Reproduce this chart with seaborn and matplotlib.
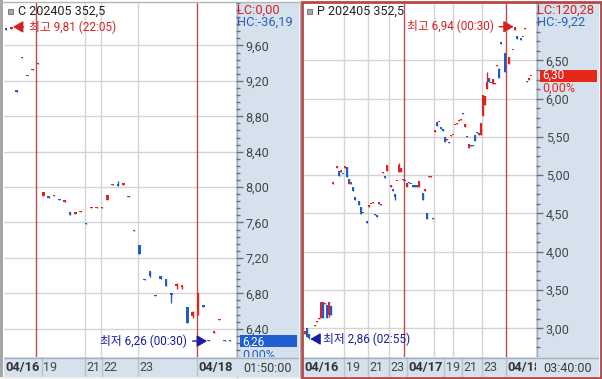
import numpy as np
import pandas as pd
import seaborn as sns
import matplotlib
matplotlib.use("Agg")
import matplotlib.pyplot as plt
from matplotlib.patches import Rectangle
import matplotlib.transforms as mtransforms

sns.set_theme(style="white")
plt.rcParams['font.family'] = ['Roboto', 'Noto Sans CJK KR', 'DejaVu Sans']
plt.rcParams['axes.unicode_minus'] = False

# ---------------- data : left panel (C 202405 352,5) ----------------
L_x = list(range(43))
L_open = [9.79, 9.79, 9.09, 9.46, 9.26, 9.32, 9.39, 7.90, 7.89, 7.90, 7.86, 7.83, 7.72, 7.70, 7.72,
          7.59, 7.76, 7.76, 7.76, 7.85, 8.02, 8.03, 8.02, 7.90, 7.51, 7.35, 6.96, 7.05, 6.78, 7.00,
          6.96, 6.80, 6.88, 6.87, 6.65, 6.54, 6.61, 6.66, 6.27, 6.35, 6.50, 6.27, 6.27]
L_high = [9.79, 9.81, 9.09, 9.47, 9.26, 9.33, 9.40, 7.95, 7.89, 7.91, 7.86, 7.85, 7.72, 7.71, 7.73,
          7.59, 7.77, 7.77, 7.77, 7.91, 8.03, 8.07, 8.05, 7.90, 7.51, 7.35, 6.96, 7.05, 6.78, 7.00,
          6.96, 6.80, 6.92, 6.89, 6.65, 6.60, 6.80, 6.66, 6.27, 6.37, 6.51, 6.27, 6.27]
L_low = [9.78, 9.79, 9.08, 9.46, 9.25, 9.32, 9.39, 7.90, 7.88, 7.90, 7.85, 7.83, 7.69, 7.70, 7.72,
         7.58, 7.76, 7.76, 7.76, 7.85, 8.02, 8.01, 8.02, 7.89, 7.50, 7.24, 6.95, 6.98, 6.77, 6.96,
         6.88, 6.69, 6.85, 6.85, 6.46, 6.52, 6.56, 6.65, 6.26, 6.35, 6.50, 6.26, 6.26]
L_close = [9.78, 9.81, 9.08, 9.47, 9.25, 9.33, 9.40, 7.95, 7.88, 7.91, 7.85, 7.85, 7.69, 7.71, 7.73,
           7.58, 7.77, 7.77, 7.77, 7.91, 8.03, 8.01, 8.05, 7.89, 7.50, 7.24, 6.95, 7.00, 6.77, 6.96,
           6.88, 6.78, 6.90, 6.89, 6.46, 6.59, 6.80, 6.65, 6.26, 6.37, 6.51, 6.26, 6.26]
L_grid_x = [14.8, 17.75, 24.7]
L_day_x = [5.6, 35.8]
L_tick_pos = [-0.4, 5.6, 14.8, 17.75, 24.7, 35.8]
L_tick_lab = ["04/16", "19", "21", "22", "23", "04/18"]
L_tick_bold = [True, False, False, False, False, True]
L_yticks = [6.40, 6.80, 7.20, 7.60, 8.00, 8.40, 8.80, 9.20, 9.60]

# ---------------- data : right panel (P 202405 352,5) ----------------
R_x = [0, 1, 2, 5, 6, 7, 8, 9, 10, 11, 12, 13, 14, 16, 17, 18, 19, 20, 21, 22, 23, 24, 25, 27, 28,
       29, 31, 32, 33, 34, 35, 36, 37, 38, 39, 40, 41, 43, 44, 45, 46, 47, 48, 49, 50, 51, 52, 53,
       54, 55, 56, 57, 59, 60, 61, 62, 63, 64, 65, 66, 67, 68, 69, 70, 71, 72, 73, 74, 75, 76, 77,
       78, 79, 80, 81, 82, 83, 84, 85, 86, 87, 88, 89, 90, 91, 92, 93, 94, 95, 96, 97, 98, 100,
       102, 104, 105, 106, 108, 109, 110, 111, 112, 113]
R_open = [2.92, 3.00, 2.93, 3.03, 3.08, 3.12, 3.14, 3.35, 3.32, 3.31, 3.17, 3.29, 4.89, 5.10, 5.05,
          5.04, 5.02, 5.10, 5.11, 4.95, 4.89, 4.85, 4.72, 4.66, 4.58, 4.51, 4.39, 4.59, 4.62, 4.64,
          4.49, 4.47, 4.62, 4.62, 5.03, 4.98, 5.05, 4.85, 4.81, 4.76, 4.92, 5.04, 5.04, 4.94, 4.93,
          4.85, 4.91, 4.89, 4.86, 4.86, 4.86, 4.85, 4.77, 4.80, 4.51, 4.98, 4.98, 4.44, 5.57, 5.69,
          5.69, 5.62, 5.61, 5.50, 5.46, 5.43, 5.51, 5.52, 5.65, 5.67, 5.71, 5.72, 5.81, 5.63, 5.51,
          5.36, 5.39, 5.39, 5.52, 5.56, 5.53, 5.53, 5.78, 5.92, 6.13, 6.27, 6.21, 6.19, 6.19, 6.43,
          6.39, 6.73, 6.60, 6.45, 6.63, 6.90, 6.82, 6.78, 6.80, 6.91, 6.23, 6.24, 6.29]
R_high = [2.97, 3.00, 2.93, 3.04, 3.09, 3.13, 3.34, 3.35, 3.33, 3.31, 3.35, 3.29, 4.90, 5.11, 5.05,
          5.07, 5.02, 5.11, 5.11, 4.95, 4.90, 4.85, 4.72, 4.66, 4.58, 4.51, 4.39, 4.60, 4.63, 4.65,
          4.49, 4.47, 4.65, 4.62, 5.04, 4.98, 5.13, 4.87, 4.81, 4.76, 4.93, 5.16, 5.10, 4.95, 4.93,
          4.90, 4.91, 4.89, 4.86, 4.86, 4.86, 4.92, 4.77, 4.81, 4.51, 4.99, 4.99, 4.44, 5.58, 5.69,
          5.70, 5.62, 5.61, 5.50, 5.47, 5.43, 5.52, 5.53, 5.66, 5.68, 5.72, 5.73, 5.81, 5.67, 5.51,
          5.41, 5.39, 5.39, 5.52, 5.56, 5.54, 5.68, 6.05, 6.03, 6.35, 6.27, 6.21, 6.26, 6.20, 6.44,
          6.40, 6.73, 6.60, 6.55, 6.64, 6.94, 6.82, 6.78, 6.81, 6.92, 6.23, 6.27, 6.30]
R_low = [2.92, 2.88, 2.86, 3.03, 3.08, 3.12, 3.14, 3.13, 3.32, 3.13, 3.15, 3.17, 4.89, 5.10, 4.99,
         5.04, 5.01, 5.10, 4.98, 4.89, 4.89, 4.79, 4.67, 4.61, 4.49, 4.50, 4.38, 4.59, 4.62, 4.64,
         4.48, 4.46, 4.62, 4.61, 5.03, 4.97, 5.05, 4.85, 4.80, 4.67, 4.92, 5.04, 5.04, 4.94, 4.92,
         4.85, 4.90, 4.88, 4.85, 4.85, 4.85, 4.85, 4.68, 4.80, 4.43, 4.98, 4.98, 4.43, 5.57, 5.64,
         5.69, 5.61, 5.58, 5.44, 5.46, 5.42, 5.51, 5.52, 5.65, 5.67, 5.71, 5.72, 5.80, 5.63, 5.50,
         5.36, 5.38, 5.38, 5.45, 5.55, 5.53, 5.53, 5.78, 5.92, 6.13, 6.22, 6.20, 6.19, 6.19, 6.43,
         6.27, 6.72, 6.35, 6.45, 6.63, 6.90, 6.78, 6.77, 6.80, 6.91, 6.22, 6.24, 6.29]
R_close = [2.97, 2.88, 2.87, 3.04, 3.09, 3.13, 3.34, 3.13, 3.33, 3.13, 3.34, 3.17, 4.90, 5.11, 4.99,
           5.07, 5.01, 5.11, 4.98, 4.89, 4.90, 4.79, 4.67, 4.61, 4.49, 4.50, 4.38, 4.60, 4.63, 4.65,
           4.48, 4.46, 4.65, 4.61, 5.04, 4.97, 5.13, 4.87, 4.80, 4.72, 4.93, 5.14, 5.10, 4.95, 4.92,
           4.90, 4.90, 4.88, 4.85, 4.85, 4.85, 4.92, 4.68, 4.81, 4.43, 4.99, 4.99, 4.43, 5.58, 5.64,
           5.70, 5.61, 5.58, 5.44, 5.47, 5.42, 5.52, 5.53, 5.66, 5.68, 5.72, 5.73, 5.80, 5.67, 5.50,
           5.41, 5.38, 5.38, 5.45, 5.55, 5.54, 5.68, 6.05, 6.03, 6.22, 6.22, 6.20, 6.26, 6.20, 6.44,
           6.27, 6.72, 6.35, 6.55, 6.64, 6.93, 6.78, 6.77, 6.81, 6.92, 6.22, 6.27, 6.30]
R_grid_x = [19.65, 31.35, 42.15, 64.65, 73.85, 88.35]
R_day_x = [49.35, 100.35]
R_tick_pos = [-1.0, 19.65, 31.35, 42.15, 49.35, 64.65, 73.85, 88.35, 100.35]
R_tick_lab = ["04/16", "19", "21", "23", "04/17", "19", "21", "23", "04/18"]
R_tick_bold = [True, False, False, False, True, False, False, False, True]
R_yticks = [3.00, 3.50, 4.00, 4.50, 5.00, 5.50, 6.00, 6.50]

# ---------------- style ----------------
RED = '#e0231e'
BLUE = '#1f5cc8'
DAYSEP = '#c24a4a'
GRID = '#d4d4d4'
AREA = '#d6e1ee'
NAVY = '#1c1ca0'
TXTRED = '#d42222'
TXTBLUE = '#2a62b8'
FS = 8.5

W, H = 602, 379
fig = plt.figure(figsize=(W / 100, H / 100), dpi=100)
fig.patch.set_facecolor('white')


def add_ax(x0, y0, x1, y1, z):
    a = fig.add_axes([x0 / W, 1 - y1 / H, (x1 - x0) / W, (y1 - y0) / H])
    a.set_zorder(z)
    return a


deco = add_ax(0, 0, W, H, -5)
deco.set_xlim(0, W)
deco.set_ylim(H, 0)
deco.axis('off')

top_deco = add_ax(0, 0, W, H, 10)
top_deco.set_xlim(0, W)
top_deco.set_ylim(H, 0)
top_deco.axis('off')
top_deco.patch.set_alpha(0)


def fmt(v):
    return f"{v:.2f}".replace('.', ',')


fig.canvas.draw()
renderer = fig.canvas.get_renderer()


def panel(px0, px1, pa1, x, o, h, l, c, xlim, ylim, yticks, ystep_minor, grid_x, day_x,
          tick_pos, tick_lab, tick_bold, title, lc, hc, last_col, time_lab,
          hi, lo, bar_w, pct_off, box_off):
    df = pd.DataFrame({'x': x, 'open': o, 'high': h, 'low': l, 'close': c})
    # background of price scale
    deco.add_patch(Rectangle((px1, 2), pa1 - px1, 355, facecolor=AREA, edgecolor='none'))
    ax = add_ax(px0, 3, px1, 357, 1)
    ax.set_facecolor('white')
    ax.set_xlim(*xlim)
    ax.set_ylim(*ylim)
    for s in ax.spines.values():
        s.set_visible(False)
    ax.set_xticks([])
    ax.yaxis.tick_right()
    ax.set_yticks(yticks)
    ax.set_yticklabels([fmt(v) for v in yticks])
    minor = np.arange(ylim[0] - ystep_minor, ylim[1] + ystep_minor, ystep_minor)
    base = yticks[0]
    minor = base + np.round((minor - base) / ystep_minor) * ystep_minor
    ax.set_yticks(minor, minor=True)
    ax.tick_params(axis='y', which='major', direction='out', length=5, width=1, color='#707070',
                   labelsize=FS + 0.5, labelcolor='#444444', pad=2)
    ax.tick_params(axis='y', which='minor', direction='out', length=3, width=1, color='#707070')
    ax.set_ylabel('')
    ax.set_xlabel('')
    for v in yticks:
        ax.axhline(v, color=GRID, lw=1, zorder=0)
    for v in grid_x:
        ax.axvline(v, color=GRID, lw=1, zorder=0)
    for v in day_x:
        ax.axvline(v, color=DAYSEP, lw=1, zorder=1)

    ppu = 354 / (ylim[1] - ylim[0])
    minh = 1.3 / ppu
    up = (df['close'] >= df['open']).to_numpy()
    cols = np.where(up, RED, BLUE)
    ax.vlines(df['x'], df['low'], df['high'], colors=cols, lw=1, zorder=3)
    bottom = np.minimum(df['open'], df['close'])
    height = np.maximum((df['close'] - df['open']).abs(), minh)
    ax.bar(df['x'], height, bar_w, bottom=bottom, color=cols, linewidth=0, zorder=4,
           antialiased=False)

    # high / low annotations
    for (hx, hy, txt, col, side, off) in (hi, lo):
        xy = (hx + side * bar_w * 0.55, hy)
        ax.annotate(txt, xy=xy, xytext=(side * off, 0), textcoords='offset points',
                    ha='left' if side > 0 else 'right', va='center', color=col, fontsize=FS,
                    annotation_clip=False,
                    arrowprops=dict(arrowstyle='-|>,head_length=0.55,head_width=0.32', color=col,
                                    lw=1, shrinkA=1.5, shrinkB=0, mutation_scale=11))

    # current price box
    last = df['close'].iloc[-1]
    bt = mtransforms.blended_transform_factory(deco.transData, ax.transData)
    bh = 12.7 / ppu
    ax.add_patch(Rectangle((px1 + 4, last - bh / 2), pa1 - px1 - 6, bh, transform=bt,
                           facecolor=last_col, edgecolor='none', clip_on=False, zorder=5))
    ax.annotate(fmt(last), xy=(px1 + 6, last), xycoords=bt, xytext=(0, box_off),
                textcoords='offset points', ha='left', va='center',
                color='white', fontsize=FS, annotation_clip=False, zorder=6)
    ax.annotate("0,00%", xy=(px1 + 6, last), xycoords=bt, xytext=(0, pct_off),
                textcoords='offset points', ha='left', va='center', color=last_col,
                fontsize=FS + 0.5, annotation_clip=False, zorder=6)

    # time strip
    st = add_ax(px0, 357, px1, 377, 3)
    st.set_facecolor(AREA)
    st.set_xlim(px0, px1)
    st.set_ylim(377, 357)
    st.set_xticks([])
    st.set_yticks([])
    for s in st.spines.values():
        s.set_visible(False)
    st2 = add_ax(px1, 357, pa1, 377, 3)
    st2.set_facecolor(AREA)
    st2.set_xlim(px1, pa1)
    st2.set_ylim(377, 357)
    st2.set_xticks([])
    st2.set_yticks([])
    for s in st2.spines.values():
        s.set_visible(False)
    st2.text(px1 + 7, 368, time_lab, ha='left', va='center', fontsize=FS + 0.5, color='#3a3a3a')

    prev_end = -1e9
    for pos, lab, bold in zip(tick_pos, tick_lab, tick_bold):
        xp = ax.transData.transform((pos, 0))[0]
        start = max(xp, px0, prev_end + 2)
        if start > px0 + 1:
            st.plot([start, start], [357, 377], color='#b8c2cf', lw=1)
        t = st.text(start + 1.3, 367.5, lab, ha='left', va='center',
                    fontsize=FS + 0.8 if bold else FS + 0.5,
                    fontweight='bold' if bold else 'normal',
                    color='#333333' if bold else '#474747', clip_on=True)
        bb = t.get_window_extent(renderer)
        prev_end = bb.x1
    st.plot([px0, px1], [357.5, 357.5], color='#a8b0bb', lw=1)
    st2.plot([px1, pa1], [357.5, 357.5], color='#a8b0bb', lw=1)
    deco.plot([px1 + 0.5, px1 + 0.5], [2, 377], color='#a4acb8', lw=1)

    # header texts
    top_deco.add_patch(Rectangle((px0 + 3.5, 8.5), 5, 5, facecolor='#a8a8a8', edgecolor='#808080', lw=0.8))
    top_deco.text(px0 + 14, 11.5, title, ha='left', va='center', fontsize=FS + 0.5, color='#222222')
    top_deco.text(px1 + 1.5, 10.5, lc, ha='left', va='center', fontsize=FS + 0.8, color=TXTRED)
    top_deco.text(px1 + 1.5, 22.5, hc, ha='left', va='center', fontsize=FS + 0.8, color=TXTBLUE)
    return ax


# left panel
panel(4, 236, 299, L_x, L_open, L_high, L_low, L_close,
      xlim=(-0.375, 43.125), ylim=(6.134, 10.003), yticks=L_yticks, ystep_minor=0.08,
      grid_x=L_grid_x, day_x=L_day_x, tick_pos=L_tick_pos, tick_lab=L_tick_lab,
      tick_bold=L_tick_bold, title="C 202405 352,5", lc="LC:0,00", hc="HC:-36,19",
      last_col='#1f5fd0', time_lab="01:50:00",
      hi=(L_x[1], max(L_high), "최고 9,81 (22:05)", TXTRED, 1, 11.4),
      lo=(L_x[38], min(L_low), "최저 6,26 (00:30)", NAVY, -1, 14.3),
      bar_w=0.55, pct_off=-10.0, box_off=-1.0)

# right panel
panel(303, 536, 599, R_x, R_open, R_high, R_low, R_close,
      xlim=(-1.0, 115.5), ylim=(2.7125, 7.1375), yticks=R_yticks, ystep_minor=0.125,
      grid_x=R_grid_x, day_x=R_day_x, tick_pos=R_tick_pos, tick_lab=R_tick_lab,
      tick_bold=R_tick_bold, title="P 202405 352,5", lc="LC:120,28", hc="HC:-9,22",
      last_col='#e4281c', time_lab="03:40:00",
      hi=(R_x[R_high.index(max(R_high))], max(R_high), "최고 6,94 (00:30)", TXTRED, -1, 14.4),
      lo=(R_x[R_low.index(min(R_low))], min(R_low), "최저 2,86 (02:55)", NAVY, 1, 8.9),
      bar_w=1.2, pct_off=-9.0, box_off=0.0)

# panel borders
deco.add_patch(Rectangle((0, 0), 3, H, facecolor='#a6a6a6', edgecolor='none'))
top_deco.plot([0, 300], [1.5, 1.5], color='#b4b4b4', lw=1)
top_deco.plot([299.5, 299.5], [2, 377], color='#a4acb8', lw=1)
top_deco.add_patch(Rectangle((302, 1.5), 298.5, 376, facecolor='none', edgecolor='#b84848', lw=2))
deco.add_patch(Rectangle((0, 377), W, 2, facecolor='#f0f0f0', edgecolor='none'))

fig.savefig('out.png', dpi=100, facecolor='white')
